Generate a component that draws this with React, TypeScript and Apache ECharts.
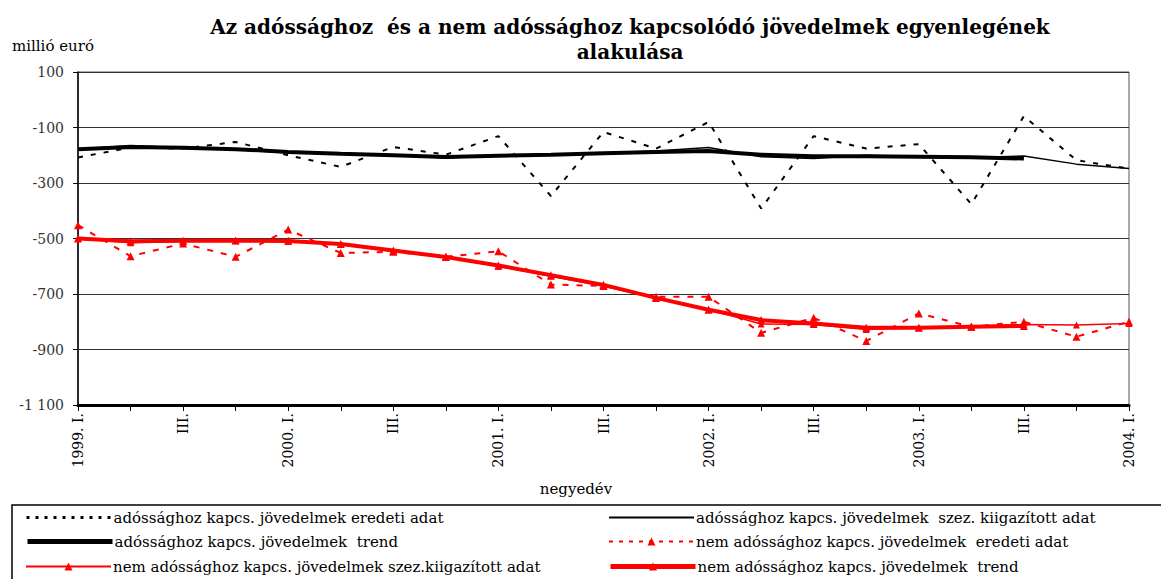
import React, { useEffect, useRef } from "react";
import * as echarts from "echarts";

const categories = [
  "1999. I.", "II.", "III.", "IV.",
  "2000. I.", "II.", "III.", "IV.",
  "2001. I.", "II.", "III.", "IV.",
  "2002. I.", "II.", "III.", "IV.",
  "2003. I.", "II.", "III.", "IV.",
  "2004. I.",
];

const debtOriginal = [-208, -172, -176, -152, -200, -242, -170, -198, -131, -347, -116, -176, -80, -392, -131, -176, -160, -376, -59, -218, -248];
const debtSeasonal = [-178, -165, -173, -180, -190, -196, -200, -210, -200, -198, -192, -185, -172, -205, -212, -200, -205, -208, -203, -232, -248];
const debtTrend = [-178, -170, -173, -178, -188, -195, -200, -206, -202, -198, -193, -188, -185, -198, -204, -204, -205, -207, -212];

const nonDebtOriginal = [-452, -564, -518, -566, -468, -552, -548, -566, -546, -666, -671, -710, -710, -840, -786, -869, -770, -818, -800, -854, -800];
const nonDebtSeasonal = [-500, -515, -510, -508, -506, -522, -546, -566, -600, -636, -672, -714, -756, -808, -810, -828, -822, -816, -810, -812, -806];
const nonDebtTrend = [-500, -510, -508, -507, -509, -520, -543, -567, -597, -632, -667, -714, -757, -794, -806, -822, -822, -818, -815];

const seriesNames = [
  "adóssághoz kapcs. jövedelmek eredeti adat",
  "adóssághoz kapcs. jövedelmek  szez. kiigazított adat",
  "adóssághoz kapcs. jövedelmek  trend",
  "nem adóssághoz kapcs. jövedelmek  eredeti adat",
  "nem adóssághoz kapcs. jövedelmek szez.kiigazított adat",
  "nem adóssághoz kapcs. jövedelmek  trend",
];

const SERIF = "DejaVu Serif";

// legend slot positions: [left, top]
const legendSlots: [number, number][] = [
  [25, 510],
  [608, 510],
  [25, 534],
  [608, 534],
  [25, 559],
  [608, 559],
];

export default function App() {
  const ref = useRef<HTMLDivElement>(null);
  useEffect(() => {
    const chart = echarts.init(ref.current!, null, { renderer: "svg" });
    const legendLineStyles = [
      { width: 3, type: [3, 6] },
      { width: 2 },
      { width: 5 },
      { width: 2, type: [4, 6] },
      { width: 2 },
      { width: 5 },
    ];
    const legends = seriesNames.map((name, i) => ({
      data: [i < 3 ? { name, itemStyle: { opacity: 0 }, lineStyle: legendLineStyles[i] } : { name, lineStyle: legendLineStyles[i] }],
      left: legendSlots[i][0],
      top: legendSlots[i][1],
      itemWidth: 85,
      itemHeight: 10,
      padding: 0,
      selectedMode: false,
      textStyle: { fontFamily: SERIF, fontSize: 15, color: "#000", padding: [0, 0, 0, -3] },
    }));
    chart.setOption({
      animation: false,
      backgroundColor: "#fff",
      title: {
        text: "Az adóssághoz  és a nem adóssághoz kapcsolódó jövedelmek egyenlegének\nalakulása",
        left: 625,
        textAlign: "center",
        top: 9,
        textStyle: { fontFamily: SERIF, fontSize: 20, fontWeight: "bold", color: "#000", lineHeight: 25 },
      },
      graphic: [
        { type: "text", left: 12, top: 38, style: { text: "millió euró", fontFamily: SERIF, fontSize: 15, fill: "#000" } },
        { type: "rect", shape: { x: 12, y: 505, width: 1160, height: 80 }, style: { fill: "none", stroke: "#000", lineWidth: 1.5 } },
      ],
      legend: legends,
      grid: { left: 78, right: 32, top: 72, bottom: 174, show: true, borderColor: "#555", borderWidth: 1 },
      xAxis: {
        type: "category",
        data: categories,
        boundaryGap: false,
        name: "negyedév",
        nameLocation: "middle",
        nameGap: 76,
        nameTextStyle: { fontFamily: SERIF, fontSize: 15, color: "#000", padding: [0, 55, 0, 0] },
        axisLine: { onZero: false, lineStyle: { color: "#000", width: 3 } },
        axisTick: { interval: 0, length: 6, lineStyle: { color: "#000" } },
        axisLabel: { interval: 1, rotate: 90, fontFamily: SERIF, fontSize: 14, color: "#000", margin: 8 },
        splitLine: { show: false },
      },
      yAxis: {
        type: "value",
        min: -1100,
        max: 100,
        interval: 200,
        axisLine: { show: true, lineStyle: { color: "#000", width: 1.5 } },
        axisTick: { show: true, length: 5, lineStyle: { color: "#000" } },
        axisLabel: {
          fontFamily: SERIF, fontSize: 14, color: "#333", margin: 14,
          formatter: (v: number) => (Math.abs(v) >= 1000 ? (v < 0 ? "-" : "") + Math.floor(Math.abs(v) / 1000) + " " + String(Math.abs(v) % 1000).padStart(3, "0") : String(v)),
        },
        splitLine: { lineStyle: { color: "#333", width: 1 } },
      },
      series: [
        { name: seriesNames[0], type: "line", data: debtOriginal, symbol: "none", color: "#000", lineStyle: { color: "#000", width: 2, type: [5, 8] }, z: 2 },
        { name: seriesNames[1], type: "line", data: debtSeasonal, symbol: "none", color: "#000", lineStyle: { color: "#000", width: 1.5 }, z: 3 },
        { name: seriesNames[2], type: "line", data: debtTrend, symbol: "none", color: "#000", lineStyle: { color: "#000", width: 4 }, z: 4 },
        { name: seriesNames[3], type: "line", data: nonDebtOriginal, symbol: "triangle", symbolSize: 8, color: "#ff0000", itemStyle: { color: "#ff0000" }, lineStyle: { color: "#ff0000", width: 2, type: [6, 8] }, z: 2 },
        { name: seriesNames[4], type: "line", data: nonDebtSeasonal, symbol: "triangle", symbolSize: 7, color: "#ff0000", itemStyle: { color: "#ff0000" }, lineStyle: { color: "#ff0000", width: 1.5 }, z: 3 },
        { name: seriesNames[5], type: "line", data: nonDebtTrend, symbol: "triangle", symbolSize: 8, color: "#ff0000", itemStyle: { color: "#ff0000" }, lineStyle: { color: "#ff0000", width: 4 }, z: 4 },
      ],
    });
    return () => chart.dispose();
  }, []);
  return <div ref={ref} style={{ width: 1161, height: 579, position: "absolute", left: 0, top: 0 }} />;
}
